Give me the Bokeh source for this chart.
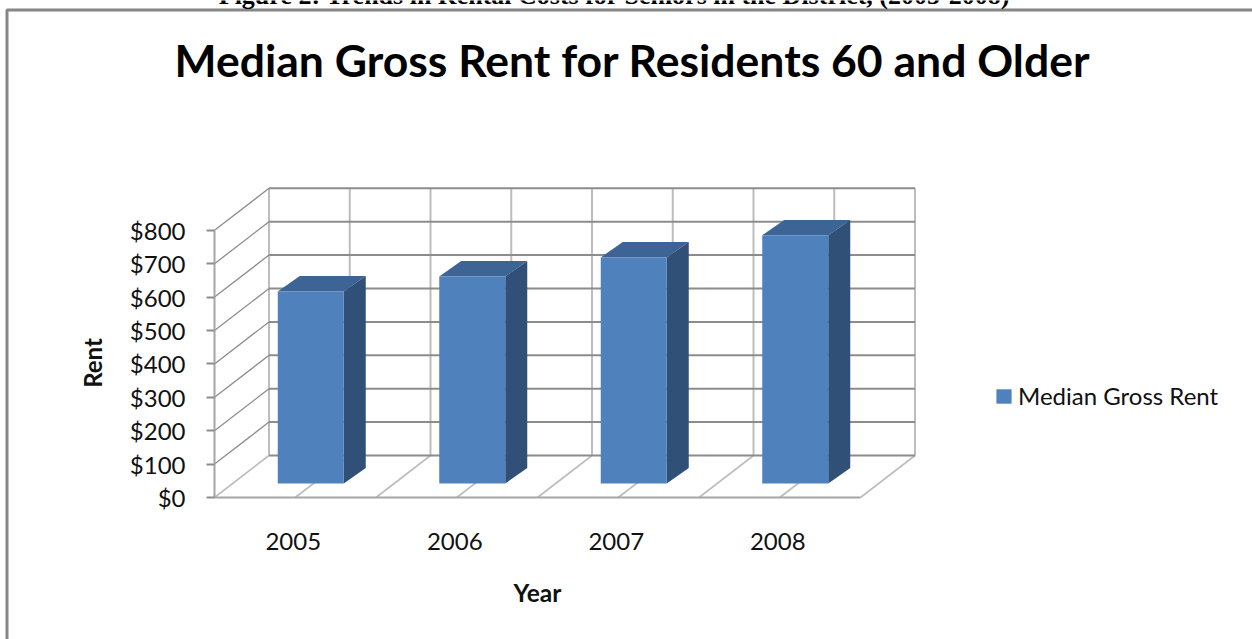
from math import pi

from bokeh.embed import file_html
from bokeh.models import (BoxAnnotation, FixedTicker, Label, Legend, LegendItem,
                          LinearAxis, NumeralTickFormatter, Range1d)
from bokeh.plotting import figure
from bokeh.resources import INLINE

# Chart values
years = ["2005", "2006", "2007", "2008"]
median_rent = [575, 620, 677, 743]
rent_ticks = [0, 100, 200, 300, 400, 500, 600, 700, 800]

title_text = "Median Gross Rent for Residents 60 and Older"
caption_text = "Figure 2: Trends in Rental Costs for Seniors in the District, (2005-2008)"

# Page layout, in pixels: the frame fills the page, axes sit at fixed data locations
W, H = 1252, 639
ORIGIN_X, ORIGIN_Y = 214, 497
CAT_PX = 161.5
USD_PX = 33.4 / 100.0

# Oblique projection of the chart's depth onto the page
DEPTH_X = 54.5 / CAT_PX
DEPTH_Y = 42.0 / USD_PX
BAR_SHIFT_X = 15.5 / CAT_PX
BAR_BASE = 14 / USD_PX
BAR_WIDTH = 66 / CAT_PX
BAR_SIDE_X = 22 / CAT_PX
BAR_SIDE_Y = 15.4 / USD_PX
YEAR_LABEL_SHIFT = 2 / CAT_PX

WALL_GREY = "#BDBDBD"
LINE_GREY = "#8C8C8C"
AXIS_GREY = "#A6A6A6"
TEXT_FONT = "Lato"

n = len(years)
p = figure(
    width=W, height=H, output_backend="svg", toolbar_location=None,
    x_range=Range1d(-ORIGIN_X / CAT_PX, (W - ORIGIN_X) / CAT_PX),
    y_range=Range1d(-(H - ORIGIN_Y) / USD_PX, ORIGIN_Y / USD_PX),
    x_axis_type=None, y_axis_type=None,
    min_border=0, outline_line_color=None,
    background_fill_color="white", border_fill_color="white",
)

# Walls and floor: half-category verticals, rent level horizontals
half_steps = [i / 2 for i in range(2 * n + 1)]
p.segment(x0=[h + DEPTH_X for h in half_steps], y0=[DEPTH_Y] * len(half_steps),
          x1=[h + DEPTH_X for h in half_steps], y1=[rent_ticks[-1] + DEPTH_Y] * len(half_steps),
          line_color=WALL_GREY, line_width=2)
p.segment(x0=half_steps, y0=[0] * len(half_steps),
          x1=[h + DEPTH_X for h in half_steps], y1=[DEPTH_Y] * len(half_steps),
          line_color=WALL_GREY, line_width=1.6)
p.segment(x0=[DEPTH_X] * len(rent_ticks), y0=[t + DEPTH_Y for t in rent_ticks],
          x1=[n + DEPTH_X] * len(rent_ticks), y1=[t + DEPTH_Y for t in rent_ticks],
          line_color=LINE_GREY, line_width=2)
p.segment(x0=[0] * len(rent_ticks[1:]), y0=rent_ticks[1:],
          x1=[DEPTH_X] * len(rent_ticks[1:]), y1=[t + DEPTH_Y for t in rent_ticks[1:]],
          line_color=LINE_GREY, line_width=1.3)

# Bars: front face plus oblique top and side faces
centres = [i + 0.5 + BAR_SHIFT_X for i in range(n)]
tops = [v + BAR_BASE for v in median_rent]
lefts = [c - BAR_WIDTH / 2 for c in centres]
rights = [c + BAR_WIDTH / 2 for c in centres]

p.patches(
    xs=[[l, r, r + BAR_SIDE_X, l + BAR_SIDE_X] for l, r in zip(lefts, rights)],
    ys=[[t, t, t + BAR_SIDE_Y, t + BAR_SIDE_Y] for t in tops],
    fill_color="#3C6494", line_color=None,
)
p.patches(
    xs=[[r, r + BAR_SIDE_X, r + BAR_SIDE_X, r] for r in rights],
    ys=[[BAR_BASE, BAR_BASE + BAR_SIDE_Y, t + BAR_SIDE_Y, t] for t in tops],
    fill_color="#305078", line_color=None,
)
front = p.vbar(x=centres, width=BAR_WIDTH, bottom=BAR_BASE, top=tops,
               fill_color="#4F81BD", line_color=None)

# Axes stop at the front plane of the plot box
y_axis = LinearAxis(
    fixed_location=0,
    ticker=FixedTicker(ticks=rent_ticks), formatter=NumeralTickFormatter(format="$0"),
    bounds=(rent_ticks[0], rent_ticks[-1]),
    axis_line_color=AXIS_GREY, axis_line_width=2,
    major_tick_line_color=LINE_GREY, major_tick_line_width=2,
    major_tick_out=8, major_tick_in=0, minor_tick_line_color=None,
    major_label_standoff=21, major_label_text_font=TEXT_FONT,
    major_label_text_font_size="24px", major_label_text_color="#111111",
)
p.add_layout(y_axis, "left")

year_ticks = [i + 0.5 - YEAR_LABEL_SHIFT for i in range(n)]
x_axis = LinearAxis(
    fixed_location=0,
    ticker=FixedTicker(ticks=year_ticks),
    major_label_overrides=dict(zip(year_ticks, years)),
    bounds=(0, n),
    axis_line_color=AXIS_GREY, axis_line_width=2,
    major_tick_line_color=None, minor_tick_line_color=None,
    major_label_standoff=29, major_label_text_font=TEXT_FONT,
    major_label_text_font_size="24px", major_label_text_color="#111111",
)
p.add_layout(x_axis, "below")

legend = Legend(
    items=[LegendItem(label="Median Gross Rent", renderers=[front])],
    location=(994, 229), background_fill_alpha=0, border_line_color=None,
    glyph_width=19, glyph_height=18, label_standoff=5, padding=0, margin=0,
    label_text_font=TEXT_FONT, label_text_font_size="24px", label_text_color="#111111",
)
p.add_layout(legend)

# Chart border, open past the right and bottom of the page
p.add_layout(BoxAnnotation(left=6.5, right=W + 20, top=H - 9.5, bottom=-20,
                           left_units="screen", right_units="screen",
                           top_units="screen", bottom_units="screen",
                           fill_alpha=0, line_color="#868686", line_alpha=1, line_width=3))


def page_label(text, x, y, baseline="middle", **kw):
    # Screen-unit labels count y up from the bottom of the frame
    p.add_layout(Label(text=text, x=x, y=H - y, x_units="screen", y_units="screen",
                       text_align="center", text_baseline=baseline, **kw))


page_label(caption_text, 614, -5, baseline="alphabetic", text_font="Liberation Serif",
           text_font_style="bold", text_font_size="26px", text_color="black")
page_label(title_text, 632, 59, text_font=TEXT_FONT, text_font_style="bold",
           text_font_size="44.5px", text_color="black")
page_label("Rent", 92, 362.5, angle=pi / 2, text_font=TEXT_FONT, text_font_style="bold",
           text_font_size="24px", text_color="#111111")
page_label("Year", 537, 592, text_font=TEXT_FONT, text_font_style="bold",
           text_font_size="24.5px", text_color="#111111")

open("out.html", "w").write(file_html(p, INLINE))
